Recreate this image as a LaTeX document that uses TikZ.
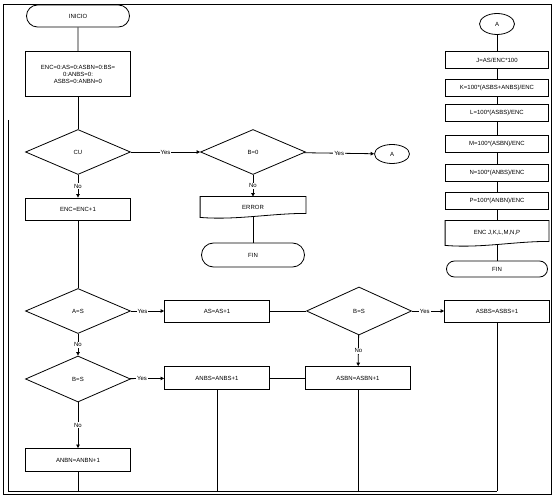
\documentclass[tikz,border=0pt]{standalone}
\usepackage{fontspec}
\setmainfont{Liberation Sans}
\usetikzlibrary{arrows.meta,shapes.geometric,shapes.misc}

\begin{document}
\begin{tikzpicture}[x=1pt,y=-1pt,line width=0.8pt,
  every node/.style={font=\fontsize{6}{7}\selectfont,align=center},
  proc/.style={draw,minimum width=105pt,minimum height=22pt,inner sep=1pt},
  rbox/.style={draw,minimum width=103pt,minimum height=17pt,inner sep=1pt},
  dec/.style={draw,diamond,minimum width=105pt,minimum height=45pt,inner sep=0pt},
  term/.style={draw,rounded rectangle,minimum width=105pt,minimum height=22pt,inner sep=1pt},
  conn/.style={draw,ellipse,minimum width=35pt,minimum height=19pt,inner sep=0pt},
  docu/.style={minimum width=105pt,minimum height=20pt,inner sep=1pt},
  flow/.style={-{Triangle[length=3.5pt,width=3.5pt]}},
  lbl/.style={fill=white,inner sep=1pt}]
  \def\wavybox#1{%
    \draw ([yshift=4pt]#1.south east) -- (#1.north east) -- (#1.north west)
      -- (#1.south west) .. controls ([xshift=35pt,yshift=-3pt]#1.south west)
      and ([xshift=-35pt,yshift=4pt]#1.south east) .. ([yshift=4pt]#1.south east) -- cycle;}
  \useasboundingbox (0,0) rectangle (555,497);
  \draw (3,4) rectangle (551,494);

  % main column
  \node[term] (ini) at (78,16) {INICIO};
  \node[proc,minimum height=45pt] (cero) at (78,74) {ENC=0:AS=0:ASBN=0:BS=\\0:ANBS=0:\\ASBS=0:ANBN=0};
  \node[dec] (cu) at (78,152) {CU};
  \node[proc] (enc) at (78,209) {ENC=ENC+1};
  \node[dec] (as) at (78,311) {A=S};
  \node[dec,minimum height=46pt] (bs1) at (78,379) {B=S};
  \node[proc,minimum height=23pt] (anbn) at (78,460) {ANBN=ANBN+1};

  % error branch
  \node[dec] (b0) at (253,152) {B=0};
  \node[docu] (err) at (253,207) {ERROR};
  \wavybox{err}
  \node[term,minimum height=24pt] (fin1) at (253,255) {FIN};
  \node[conn] (a1) at (392,154) {A};

  % counters
  \node[proc] (asinc) at (217,311) {AS=AS+1};
  \node[proc,minimum height=23pt] (anbs) at (217,378) {ANBS=ANBS+1};
  \node[dec,minimum height=48pt] (bs2) at (359,311) {B=S};
  \node[proc] (asbs) at (497,311) {ASBS=ASBS+1};
  \node[proc,minimum height=23pt] (asbn) at (358,378) {ASBN=ASBN+1};

  % results
  \node[conn,minimum height=21pt] (a2) at (497,24) {A};
  \foreach \n/\y/\t in {j/60/{J=AS/ENC*100},
    k/88/{K=100*(ASBS+ANBS)/ENC},
    l/113/{L=100*(ASBS)/ENC},
    m/144/{M=100*(ASBN)/ENC},
    n/173/{N=100*(ANBS)/ENC},
    p/201/{P=100*(ANBN)/ENC}} {
    \node[rbox] (\n) at (497,\y) {\t};
  }
  \node[docu,minimum width=103pt,minimum height=24pt] (out) at (497,233) {ENC J,K,L,M,N,P};
  \wavybox{out}
  \node[term,minimum width=103pt,minimum height=16pt] (fin2) at (497,269) {FIN};
  \draw (a2) -- (j) -- (k) -- (l) -- (m) -- (n) -- (p) -- (out) -- (fin2);

  % connectors
  \draw (ini) -- (cero);
  \draw (cero) -- (cu);
  \draw[flow] (cu) -- node[lbl]{No} (enc);
  \draw[flow] (cu) -- node[lbl]{Yes} (b0);
  \draw[flow] (b0) -- node[lbl]{Yes} (a1);
  \draw[flow] (b0) -- node[lbl]{No} (err);
  \draw (err) -- (fin1);
  \draw (enc) -- (as);
  \draw[flow] (as) -- node[lbl,pos=0.35]{Yes} (asinc);
  \draw[flow] (as) -- node[lbl]{No} (bs1);
  \draw[flow] (bs1) -- node[lbl,pos=0.35]{Yes} (anbs);
  \draw[flow] (bs1) -- node[lbl]{No} (anbn);
  \draw (asinc) -- (bs2);
  \draw[flow] (bs2) -- node[lbl,pos=0.4]{Yes} (asbs);
  \draw[flow] (bs2) -- node[lbl]{No} (asbn);
  \draw (anbs) -- (asbn);

  % loop back
  \coordinate (ltop) at (8,120);
  \coordinate (lbot) at (8,491);
  \draw (ltop) -- (lbot) -- (asbs |- lbot);
  \foreach \n in {anbn,anbs,asbn,asbs}
    \draw (\n) -- (\n |- lbot);
\end{tikzpicture}
\end{document}
